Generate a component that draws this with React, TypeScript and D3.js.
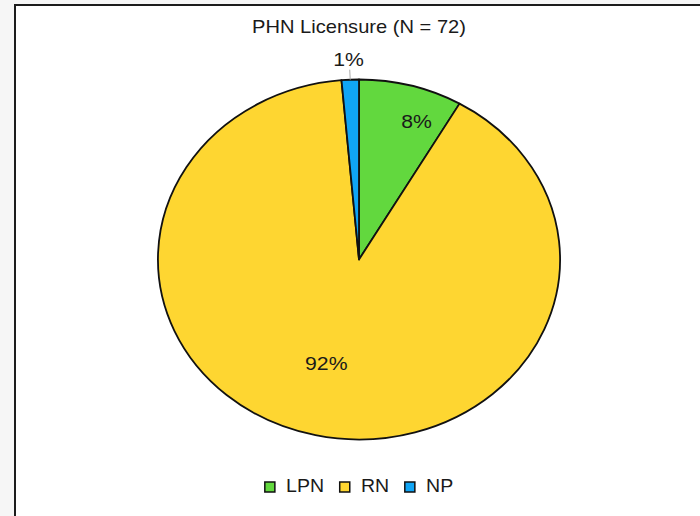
import { useEffect, useRef } from "react";
import * as d3 from "d3";

// data
const categories: string[] = ["LPN", "RN", "NP"];
const counts: number[] = [6, 65, 1];
const pctLabels: string[] = ["8%", "92%", "1%"];
const sliceColors: string[] = ["#62d83e", "#fed631", "#10a5f5"];
const chartTitle = "PHN Licensure (N = 72)";

const W = 700;
const H = 516;
const FONT = "'Liberation Sans', Arial, sans-serif";

export default function App() {
  const svgRef = useRef<SVGSVGElement | null>(null);

  useEffect(() => {
    document.body.style.margin = "0";
    if (!svgRef.current) return;
    const svg = d3.select(svgRef.current);
    svg.selectAll("*").remove();

    const cx = 359;
    const cy = 259.5;
    const R = 180;
    const sx = 1.117; // picture is stretched horizontally

    // page background + frame
    svg.append("rect").attr("width", W).attr("height", H).attr("fill", "#f6f6f6");
    svg.append("rect")
      .attr("x", 15).attr("y", 5)
      .attr("width", W).attr("height", H)
      .attr("fill", "#fff")
      .attr("stroke", "#1c1c1c")
      .attr("stroke-width", 2);

    const g = svg.append("g").attr("transform", `translate(${cx},0) scale(${sx},1)`);

    // title
    g.append("text")
      .attr("x", 0).attr("y", 33)
      .attr("text-anchor", "middle")
      .attr("font-family", FONT)
      .attr("font-size", 18)
      .attr("fill", "#1a1a1a")
      .text(chartTitle);

    const pie = d3.pie<number>().sort(null).startAngle(0).endAngle(2 * Math.PI);
    const arcs = pie(counts);
    const arc = d3.arc<d3.PieArcDatum<number>>().innerRadius(0).outerRadius(R);

    const pg = g.append("g").attr("transform", `translate(0,${cy})`);

    pg.selectAll("path")
      .data(arcs)
      .join("path")
      .attr("d", arc)
      .attr("fill", (_d, i) => sliceColors[i])
      .attr("stroke", "#111")
      .attr("stroke-width", 1.8)
      .attr("stroke-linejoin", "round")
      .attr("vector-effect", "non-scaling-stroke");

    // inside labels: fraction along the slice angle and radius fraction
    const labelAlong = [0.68, 0.51];
    const labelRad = [0.82, 0.6];
    arcs.forEach((a, i) => {
      const fs = 19;
      if (i < 2) {
        const ang = a.startAngle + (a.endAngle - a.startAngle) * labelAlong[i];
        const r = R * labelRad[i];
        pg.append("text")
          .attr("x", Math.sin(ang) * r)
          .attr("y", -Math.cos(ang) * r)
          .attr("dy", "0.35em")
          .attr("text-anchor", "middle")
          .attr("font-family", FONT)
          .attr("font-size", fs)
          .attr("fill", "#1a1a1a")
          .text(pctLabels[i]);
      } else {
        const ang = (a.startAngle + a.endAngle) / 2;
        const x0 = Math.sin(ang) * R;
        const y0 = -Math.cos(ang) * R;
        const x1 = Math.sin(ang) * (R + 10);
        const y1 = -Math.cos(ang) * (R + 10);
        pg.append("line")
          .attr("x1", x0).attr("y1", y0)
          .attr("x2", x1).attr("y2", y1)
          .attr("stroke", "#aaa")
          .attr("stroke-width", 1)
          .attr("vector-effect", "non-scaling-stroke");
        pg.append("text")
          .attr("x", x1 - 1)
          .attr("y", y1 - 4)
          .attr("text-anchor", "middle")
          .attr("font-family", FONT)
          .attr("font-size", fs)
          .attr("fill", "#1a1a1a")
          .text(pctLabels[i]);
      }
    });

    // legend
    const lg = g.append("g");
    const sq = 9;
    const gap = 10;
    const spacing = 14;
    const texts = categories.map((c) =>
      lg.append("text")
        .attr("font-family", FONT)
        .attr("font-size", 17.5)
        .attr("fill", "#1a1a1a")
        .attr("y", 492)
        .text(c)
    );
    const widths = texts.map((t) => (t.node() as SVGTextElement).getComputedTextLength());
    const total = d3.sum(widths) + categories.length * (sq + gap) + (categories.length - 1) * spacing;
    let x = -total / 2;
    categories.forEach((_c, i) => {
      lg.append("rect")
        .attr("x", x).attr("y", 482)
        .attr("width", sq).attr("height", 10)
        .attr("fill", sliceColors[i])
        .attr("stroke", "#111")
        .attr("stroke-width", 1.5)
        .attr("vector-effect", "non-scaling-stroke");
      texts[i].attr("x", x + sq + gap);
      x += sq + gap + widths[i] + spacing;
    });
  }, []);

  return <svg ref={svgRef} width={W} height={H} style={{ display: "block" }} />;
}
